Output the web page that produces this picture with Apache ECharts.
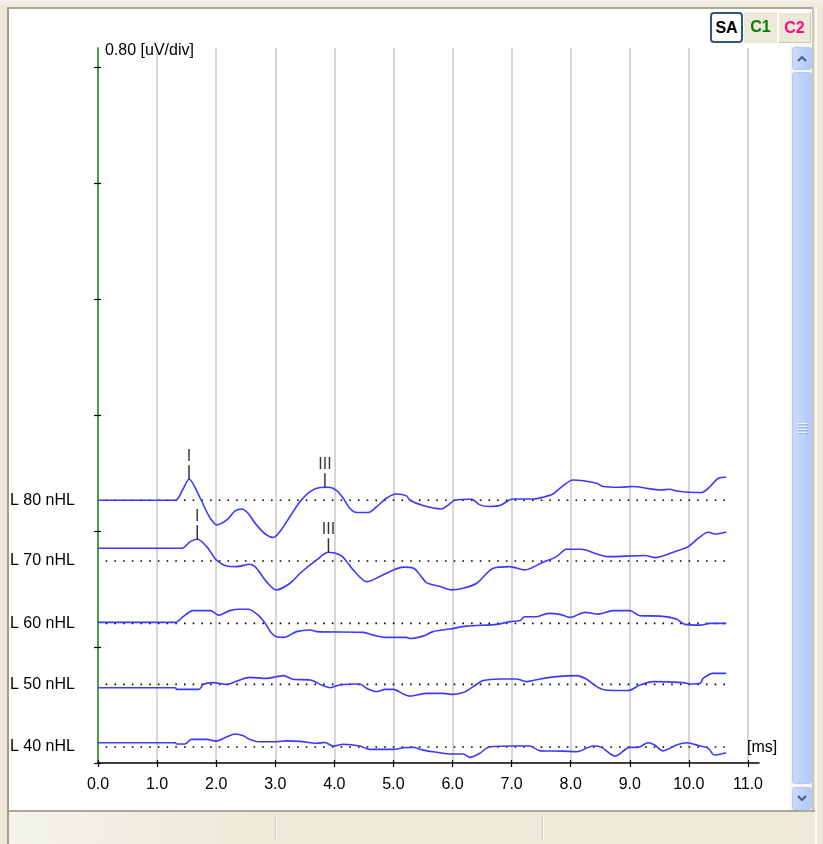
<!DOCTYPE html>
<html>
<head>
<meta charset="utf-8">
<script src="https://cdn.jsdelivr.net/npm/echarts@6/dist/echarts.min.js"></script>
<style>
html,body{margin:0;padding:0;width:823px;height:844px;overflow:hidden;background:#ece9d8;font-family:"Liberation Sans",Arial,sans-serif;}
.a{position:absolute;box-sizing:border-box;}
#chart{left:0;top:0;width:823px;height:844px;z-index:1;}
.btn{font-weight:bold;font-size:16px;line-height:29px;text-align:center;z-index:2;}
.sb{z-index:2;border:1px solid #b4c8f4;border-radius:3px;background:linear-gradient(to right,#cbdafd,#bccffb 60%,#b3c8f7);}
</style>
</head>
<body>
<!-- window chrome -->
<div class="a" style="left:0;top:0;width:823px;height:7px;background:linear-gradient(#f3f2ea,#ece9d8);"></div>
<div class="a" style="left:7px;top:7px;width:807px;height:2px;background:#aca899;"></div>
<div class="a" style="left:7px;top:7px;width:2px;height:837px;background:#9f9d91;"></div>
<div class="a" style="left:812px;top:7px;width:2px;height:805px;background:#c9c6b8;"></div>
<div class="a" style="left:815px;top:7px;width:2px;height:837px;background:#f7f6f0;"></div>
<div class="a" style="left:9px;top:9px;width:803px;height:801px;background:#ffffff;"></div>
<div class="a" style="left:790px;top:44px;width:22px;height:766px;background:#f6f5ef;"></div>
<div class="a" style="left:9px;top:810px;width:806px;height:2px;background:#aca899;"></div>
<div class="a" style="left:9px;top:812px;width:806px;height:32px;background:linear-gradient(to right,#f4f3ec,#ece9d8 30%,#ece9d8);"></div>
<div class="a" style="left:275px;top:816px;width:1px;height:25px;background:#c9c6b8;"></div>
<div class="a" style="left:276px;top:816px;width:1px;height:25px;background:#ffffff;"></div>
<div class="a" style="left:542px;top:816px;width:1px;height:25px;background:#c9c6b8;"></div>
<div class="a" style="left:543px;top:816px;width:1px;height:25px;background:#ffffff;"></div>

<div id="chart" class="a"></div>

<!-- SA / C1 / C2 buttons -->
<div class="a btn" style="left:710px;top:12px;width:33px;height:31px;background:#ffffff;border:2px solid #34567e;border-radius:4px;color:#000;line-height:27px;">SA</div>
<div class="a btn" style="left:744px;top:12px;width:33px;height:31px;background:#ece9d8;color:#0a7d0a;">C1</div>
<div class="a btn" style="left:778px;top:12px;width:33px;height:31px;background:#ece9d8;border:1px solid #fbfaf5;border-right-color:#c9c6b8;border-bottom-color:#c9c6b8;color:#ff0a82;">C2</div>

<!-- scrollbar -->
<div class="a sb" style="left:792px;top:47px;width:20px;height:23px;">
<svg width="18" height="21" style="position:absolute;left:0;top:0"><polyline points="5,13 9,9 13,13" fill="none" stroke="#4d6185" stroke-width="2.2"/></svg>
</div>
<div class="a sb" style="left:792px;top:72px;width:20px;height:712px;">
<svg width="18" height="710" style="position:absolute;left:0;top:0">
<g stroke="#eef3ff" stroke-width="1"><line x1="4" y1="350.5" x2="14" y2="350.5"/><line x1="4" y1="353.5" x2="14" y2="353.5"/><line x1="4" y1="356.5" x2="14" y2="356.5"/><line x1="4" y1="359.5" x2="14" y2="359.5"/></g>
<g stroke="#9fb6ec" stroke-width="1"><line x1="5" y1="351.5" x2="15" y2="351.5"/><line x1="5" y1="354.5" x2="15" y2="354.5"/><line x1="5" y1="357.5" x2="15" y2="357.5"/><line x1="5" y1="360.5" x2="15" y2="360.5"/></g>
</svg>
</div>
<div class="a sb" style="left:792px;top:787px;width:20px;height:23px;">
<svg width="18" height="21" style="position:absolute;left:0;top:0"><polyline points="5,8 9,12 13,8" fill="none" stroke="#4d6185" stroke-width="2.2"/></svg>
</div>

<script>
// ---- data ----
const levels = ['L 80 nHL', 'L 70 nHL', 'L 60 nHL', 'L 50 nHL', 'L 40 nHL'];
// vertical offset of each trace's reference line, in uV above the time axis
const baselines = [1.814, 1.395, 0.964, 0.543, 0.110];
const xTicks = [0, 1, 2, 3, 4, 5, 6, 7, 8, 9, 10, 11];
const yTicks = [0, 0.8, 1.6, 2.4, 3.2, 4.0, 4.8];

// traces: [latency ms, amplitude uV relative to the level's reference line]
const l80 = [[0,0],[1.31,0],[1.43,0.071],[1.54,0.145],[1.73,0.014],[1.81,-0.055],[1.90,-0.124],[2.01,-0.170],[2.18,-0.136],[2.32,-0.074],[2.43,-0.060],[2.54,-0.090],[2.68,-0.170],[2.85,-0.239],[2.97,-0.257],[3.08,-0.216],[3.25,-0.112],[3.42,-0.009],[3.59,0.060],[3.76,0.088],[3.90,0.090],[4.04,0.067],[4.15,0.014],[4.26,-0.055],[4.38,-0.085],[4.57,-0.085],[4.72,-0.043],[4.88,0.014],[5.05,0.043],[5.22,0.030],[5.28,0],[5.50,-0.037],[5.81,-0.060],[5.93,-0.032],[6.04,0],[6.32,0.007],[6.46,-0.032],[6.63,-0.043],[6.80,-0.037],[7.02,0.009],[7.37,0.009],[7.53,0.021],[7.70,0.043],[7.82,0.083],[8.04,0.140],[8.18,0.136],[8.44,0.117],[8.55,0.095],[8.83,0.090],[9.05,0.095],[9.28,0.083],[9.51,0.071],[9.68,0.076],[9.79,0.064],[10.02,0.055],[10.21,0.053],[10.33,0.083],[10.50,0.152],[10.63,0.159]];
const l70 = [[0,0.088],[1.42,0.088],[1.56,0.133],[1.68,0.150],[1.84,0.099],[1.92,0.053],[2.00,0.007],[2.18,-0.035],[2.35,-0.039],[2.57,-0.023],[2.68,-0.050],[2.85,-0.143],[3.02,-0.200],[3.25,-0.154],[3.42,-0.085],[3.70,0.007],[3.90,0.060],[4.10,0.041],[4.21,-0.005],[4.32,-0.062],[4.55,-0.143],[4.77,-0.108],[5.00,-0.062],[5.17,-0.043],[5.34,-0.050],[5.45,-0.097],[5.56,-0.150],[5.79,-0.177],[5.98,-0.200],[6.18,-0.188],[6.41,-0.154],[6.69,-0.050],[6.97,-0.039],[7.22,-0.062],[7.53,-0.009],[7.76,0.030],[7.93,0.081],[8.18,0.081],[8.44,0.048],[8.63,0.030],[9.26,0.037],[9.42,0.023],[9.79,0.069],[9.99,0.099],[10.16,0.157],[10.33,0.198],[10.44,0.186],[10.63,0.200]];
const l60 = [[0,0.007],[1.31,0.007],[1.44,0.046],[1.61,0.088],[1.90,0.088],[2.04,0.057],[2.23,0.088],[2.40,0.097],[2.54,0.097],[2.71,0.057],[2.83,0],[2.94,-0.069],[3.02,-0.092],[3.14,-0.097],[3.36,-0.057],[3.59,-0.046],[3.70,-0.057],[4.49,-0.062],[4.66,-0.081],[4.88,-0.097],[5.22,-0.097],[5.28,-0.104],[5.50,-0.088],[5.67,-0.057],[5.96,-0.039],[6.24,-0.019],[6.75,-0.007],[6.97,0.012],[7.14,0.019],[7.22,0.046],[7.42,0.046],[7.62,0.069],[7.82,0.062],[7.99,0.041],[8.24,0.076],[8.47,0.064],[8.72,0.088],[9.00,0.088],[9.17,0.053],[9.51,0.050],[9.79,0.030],[9.93,-0.007],[10.19,-0.012],[10.36,0],[10.63,0]];
const l50 = [[0,-0.023],[1.31,-0.023],[1.33,-0.035],[1.71,-0.035],[1.78,0],[1.95,0.012],[2.18,0],[2.29,0.012],[2.40,0.030],[2.57,0.048],[2.85,0.041],[3.02,0.053],[3.14,0.060],[3.30,0.035],[3.59,0.030],[3.81,-0.009],[3.93,-0.023],[4.09,-0.005],[4.43,0.002],[4.55,-0.028],[4.72,-0.050],[4.86,-0.035],[5.00,-0.035],[5.17,-0.067],[5.28,-0.081],[5.56,-0.062],[5.84,-0.062],[6.01,-0.069],[6.18,-0.057],[6.35,-0.016],[6.52,0.026],[6.80,0.037],[7.08,0.037],[7.25,0.019],[7.48,0.037],[7.76,0.053],[8.10,0.060],[8.27,0.035],[8.44,-0.016],[8.58,-0.039],[8.97,-0.043],[9.17,-0.005],[9.40,0.019],[9.90,0.012],[10.02,0.002],[10.19,0.007],[10.24,0.041],[10.41,0.076],[10.63,0.076]];
const l40 = [[0,0.030],[1.31,0.030],[1.33,0.021],[1.47,0.021],[1.58,0.053],[1.84,0.053],[2.00,0.041],[2.18,0.071],[2.32,0.090],[2.46,0.078],[2.57,0.053],[2.74,0.037],[3.02,0.037],[3.19,0.043],[3.42,0.039],[3.70,0.026],[3.84,0.032],[3.98,0.007],[4.15,0.019],[4.43,0.007],[4.60,-0.016],[5.00,-0.016],[5.17,-0.005],[5.34,-0.002],[5.50,-0.021],[5.67,-0.032],[6.01,-0.048],[6.18,-0.048],[6.29,-0.071],[6.46,-0.043],[6.63,0.002],[7.03,0.007],[7.31,0.007],[7.48,-0.026],[7.87,-0.028],[8.10,-0.032],[8.38,0.007],[8.52,-0.002],[8.75,-0.062],[9.00,-0.002],[9.14,-0.002],[9.31,0.030],[9.42,0.014],[9.56,-0.026],[9.79,0.014],[9.96,0.030],[10.19,0.007],[10.33,-0.009],[10.43,-0.055],[10.63,-0.039]];
const traces = [l80, l70, l60, l50, l40];

// wave peak markers: [latency ms, amplitude uV, wave label]
const peaksL80 = [[1.54, 0.145, 'I'], [3.84, 0.090, 'III']];
const peaksL70 = [[1.68, 0.150, 'I'], [3.90, 0.060, 'III']];
const peaks = [peaksL80, peaksL70];

const refStart = 0.13, refEnd = 10.63;
const scaleLabel = '0.80 [uV/div]';
const unitLabel = '[ms]';

// ---- chart ----
const FONT = '"Liberation Sans", Arial, sans-serif';
const chart = echarts.init(document.getElementById('chart'), null, {renderer: 'canvas'});

const series = [];
baselines.forEach((b, i) => {
  series.push({
    type: 'line', xAxisIndex: 0, yAxisIndex: 0, silent: true, z: 2,
    symbol: 'none', animation: false,
    data: [[refStart, b], [refEnd, b]],
    lineStyle: {color: '#000', width: 1.6, type: [1.6, 7.1]}
  });
});
traces.forEach((tr, i) => {
  series.push({
    type: 'line', xAxisIndex: 0, yAxisIndex: 0, silent: true, z: 3,
    symbol: 'none', animation: false, smooth: 0.3,
    data: tr.map(p => [p[0], baselines[i] + p[1]]),
    lineStyle: {color: '#3a3aff', width: 1.6}
  });
});
peaks.forEach((pk, i) => {
  series.push({
    type: 'scatter', xAxisIndex: 0, yAxisIndex: 0, silent: true, z: 4, animation: false,
    symbol: 'rect', symbolSize: [1.5, 14], symbolOffset: [0, -7],
    itemStyle: {color: '#000'},
    data: pk.map(p => [p[0], baselines[i] + p[1], p[2]]),
    label: {show: true, position: 'top', distance: 1, formatter: p => p.data[2],
            color: '#000', fontSize: 16, fontFamily: FONT}
  });
});

const yMax = 4.936, xMax = 11.186;
const option = {
  backgroundColor: 'transparent',
  animation: false,
  title: [
    {text: scaleLabel, left: 105, top: 43, padding: 0,
     textStyle: {fontSize: 16, fontWeight: 'normal', color: '#000', fontFamily: FONT}},
    {text: unitLabel, left: 747, top: 740, padding: 0,
     textStyle: {fontSize: 16, fontWeight: 'normal', color: '#000', fontFamily: FONT}}
  ],
  grid: {left: 98, top: 48, width: 661, height: 715, containLabel: false},
  xAxis: [
    {type: 'value', min: 0, max: xMax, interval: 1, position: 'bottom',
     axisLine: {show: true, onZero: false, lineStyle: {color: '#000', width: 1.5}},
     axisTick: {show: true, inside: false, length: 4, customValues: xTicks, lineStyle: {color: '#000', width: 1.2}},
     axisLabel: {show: true, customValues: xTicks, margin: 14, formatter: v => v.toFixed(1),
                 color: '#000', fontSize: 16, fontFamily: FONT},
     splitLine: {show: true, lineStyle: {color: '#d6d6d6', width: 2}}},
    {type: 'value', min: 0, max: xMax, interval: 1, position: 'bottom', offset: 0,
     axisLine: {show: false},
     axisTick: {show: true, inside: true, length: 3, customValues: xTicks, lineStyle: {color: '#000', width: 1.2}},
     axisLabel: {show: false}, splitLine: {show: false}}
  ],
  yAxis: [
    {type: 'value', min: 0, max: yMax, interval: 0.8, position: 'left',
     axisLine: {show: true, onZero: false, lineStyle: {color: '#4f9a4f', width: 2}},
     axisTick: {show: true, inside: false, length: 4, customValues: yTicks, lineStyle: {color: '#000', width: 1.2}},
     axisLabel: {show: true, customValues: baselines, margin: 88, align: 'left', padding: [4, 0, 0, 0],
                 formatter: v => {
                   let bi = 0, bd = Infinity;
                   baselines.forEach((b, i) => { const d = Math.abs(b - v); if (d < bd) { bd = d; bi = i; } });
                   return levels[bi];
                 },
                 color: '#000', fontSize: 16, fontFamily: FONT},
     splitLine: {show: false}},
    {type: 'value', min: 0, max: yMax, interval: 0.8, position: 'left', offset: 0,
     axisLine: {show: false},
     axisTick: {show: true, inside: true, length: 3, customValues: yTicks, lineStyle: {color: '#000', width: 1.2}},
     axisLabel: {show: false}, splitLine: {show: false}}
  ],
  series: series
};
chart.setOption(option);
</script>
</body>
</html>
